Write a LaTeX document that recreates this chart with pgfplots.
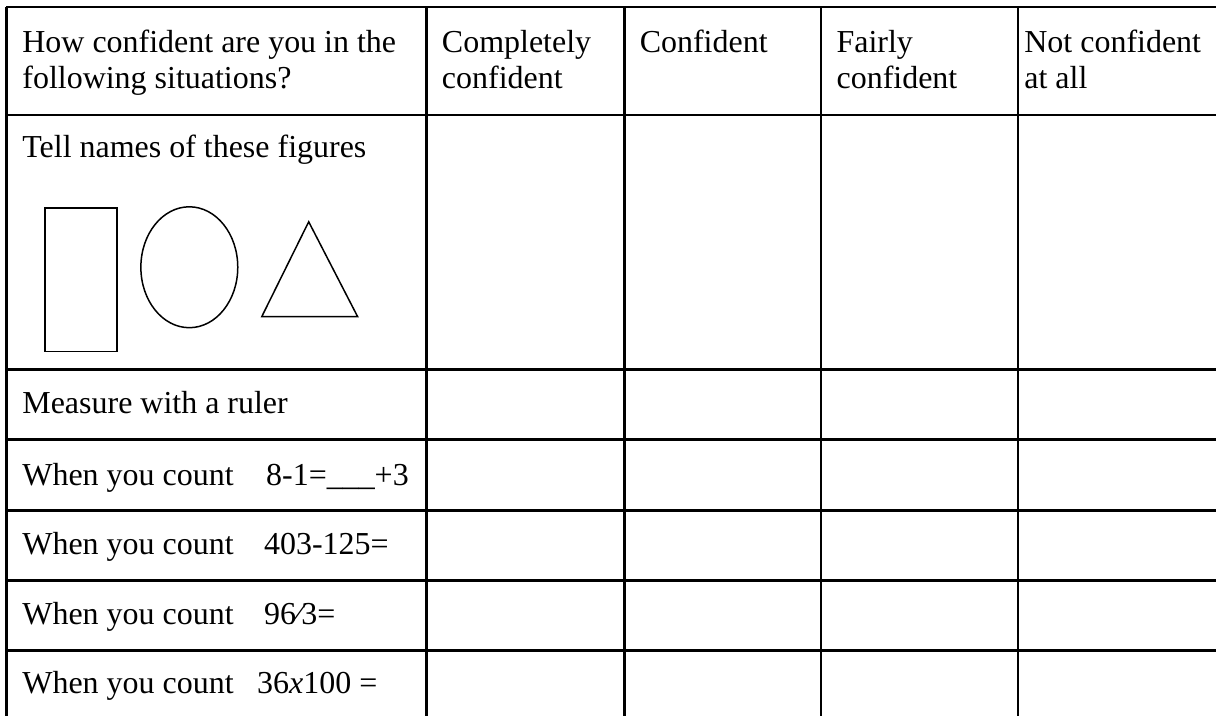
\documentclass[border=0pt]{standalone}
\usepackage{fontspec}
\setmainfont{Liberation Serif}
\usepackage{pgfplots}
\pgfplotsset{compat=1.18}

% cell text: x, baseline y (pixel units of the reference), text
\newcommand\cell[3]{\node[anchor=base west, inner sep=0pt,
  font=\fontsize{16}{18}\selectfont] at (axis cs:#1,#2) {#3};}

\begin{document}
\begin{tikzpicture}
\begin{axis}[
  width=608.5pt, height=358.5pt, scale only axis,
  xmin=0, xmax=1217, ymin=0, ymax=717, y dir=reverse,
  hide axis, clip=false,
  rule/.style={black, solid, line width=1.2pt, mark=none},
  shape/.style={black, solid, line width=0.75pt, mark=none},
]
% frame for the bounding box
\addplot[draw=none] coordinates {(0,0) (1217,717)};

% horizontal rules
\addplot[rule] coordinates {(6.5,7.3) (1217,7.3)};
\addplot[rule] coordinates {(6.5,115) (1217,115)};
\addplot[rule] coordinates {(6.5,370) (1217,370)};
\addplot[rule] coordinates {(6.5,440) (1217,440)};
\addplot[rule] coordinates {(6.5,511) (1217,511)};
\addplot[rule] coordinates {(6.5,581) (1217,581)};
\addplot[rule] coordinates {(6.5,651) (1217,651)};

% vertical rules
\addplot[rule] coordinates {(6.5,7.3) (6.5,717)};
\addplot[rule] coordinates {(427,7.3) (427,717)};
\addplot[rule] coordinates {(625,7.3) (625,717)};
\addplot[rule] coordinates {(822,7.3) (822,717)};
\addplot[rule] coordinates {(1019,7.3) (1019,717)};

% header
\cell{22}{53}{How confident are you in the}
\cell{22}{89}{following situations?}
\cell{442}{53}{Completely}
\cell{442}{89}{confident}
\cell{640}{53}{Confident}
\cell{837}{53}{Fairly}
\cell{837}{89}{confident}
\cell{1025}{53}{Not confident}
\cell{1025}{89}{at all}

% rows
\cell{22}{158}{Tell names of these figures}
\cell{22}{414}{Measure with a ruler}
\cell{22}{486}{When you count}
\cell{266}{486}{8-1=\_\_\_+3}
\cell{22}{555}{When you count}
\cell{264}{555}{403-125=}
\cell{22}{625}{When you count}
\cell{264}{625}{96\symbol{"2044}3=}
\cell{22}{694}{When you count}
\cell{257}{694}{36\textit{x}100 =}

% figures
\addplot[shape] coordinates {(45,208) (117,208) (117,352) (45,352)} --cycle;
\draw[line width=0.75pt] (axis cs:189.5,267.5) ellipse [x radius=48.5, y radius=60.5];
\addplot[shape] coordinates {(309,222) (358,317) (262,317)} --cycle;
\end{axis}
\end{tikzpicture}
\end{document}
